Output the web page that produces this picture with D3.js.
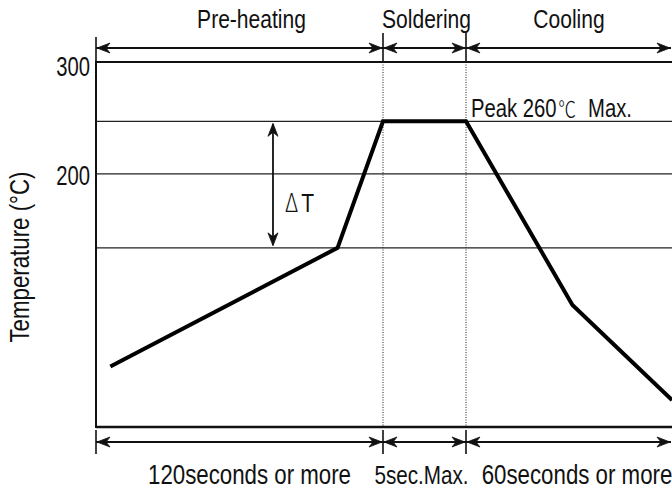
<!DOCTYPE html>
<html>
<head>
<meta charset="utf-8">
<script src="https://cdn.jsdelivr.net/npm/d3@7/dist/d3.min.js"></script>
<style>
  html, body { margin: 0; padding: 0; background: #fff; }
  svg { display: block; }
  text { font-family: "Liberation Sans", Arial, Helvetica, sans-serif; fill: #111; }
</style>
</head>
<body>
<svg id="chart" width="672" height="490"></svg>
<script>
// ---------------- data ----------------
const yTicks = [300, 200];
const refTemps = [247, 200, 134];               // horizontal reference lines
const phaseNames = ["Pre-heating", "Soldering", "Cooling"];
const phaseBounds = [0, 120, 125, 185];         // seconds (schematic)
const durationLabels = ["120seconds or more", "5sec.Max.", "60seconds or more"];
const profileTime = [6, 101, 120, 125, 156, 185];
const profileTemp = [28, 134, 247, 247, 83, -2];
const peakText = ["Peak 260", "℃", "Max."];
const deltaRange = [134, 247];
const deltaTime = 74;
const yLabel = "Temperature (°C)";

// ---------------- layout ----------------
const W = 672, H = 490;
const left = 96, plotTop = 62, plotBottom = 427;
const segW = [287, 83, 206];
const yMin = -26, yMax = 300;
const SX = 0.81;

const xRange = [left];
segW.forEach(w => xRange.push(xRange[xRange.length - 1] + w));
const x = d3.scaleLinear().domain(phaseBounds).range(xRange);
const y = d3.scaleLinear().domain([yMin, yMax]).range([plotBottom, plotTop]);

const svg = d3.select("#chart");

function txt(g, px, py, str, size, anchor, sx) {
  return g.append("text")
    .attr("transform", `translate(${px},${py}) scale(${sx || SX},1)`)
    .attr("text-anchor", anchor)
    .style("font-size", size + "px")
    .text(str);
}

function arrowHead(g, tx, ty, dir, vertical) {
  const L = 13, Wd = 5, N = 9;
  let p;
  if (!vertical) {
    p = `M${tx},${ty}L${tx - dir * L},${ty - Wd}L${tx - dir * N},${ty}L${tx - dir * L},${ty + Wd}Z`;
  } else {
    p = `M${tx},${ty}L${tx - Wd},${ty - dir * L}L${tx},${ty - dir * N}L${tx + Wd},${ty - dir * L}Z`;
  }
  g.append("path").attr("d", p).attr("fill", "#111").attr("stroke", "#111").attr("stroke-width", 0.8).attr("stroke-linejoin", "miter");
}

// reference (grid) lines
const grid = svg.append("g");
refTemps.forEach(t => {
  grid.append("line").attr("x1", left).attr("x2", W).attr("y1", y(t)).attr("y2", y(t))
    .attr("stroke", "#222").attr("stroke-width", 1.3);
});

// dotted phase separators
phaseBounds.slice(1, 3).forEach(s => {
  grid.append("line").attr("x1", x(s)).attr("x2", x(s)).attr("y1", plotTop).attr("y2", plotBottom)
    .attr("stroke", "#222").attr("stroke-width", 1).attr("stroke-dasharray", "1,1.5");
});

// frame: top, left, bottom
const frame = svg.append("g").attr("stroke", "#111").attr("fill", "none");
frame.append("line").attr("x1", left).attr("x2", W).attr("y1", y(yMax)).attr("y2", y(yMax)).attr("stroke-width", 2);
frame.append("line").attr("x1", left).attr("x2", W).attr("y1", plotBottom).attr("y2", plotBottom).attr("stroke-width", 2.4);
frame.append("line").attr("x1", left).attr("x2", left).attr("y1", plotTop - 1).attr("y2", plotBottom + 1).attr("stroke-width", 2);

// y tick labels
const yAxis = svg.append("g");
yTicks.forEach((t, i) => {
  txt(yAxis, left - 6, y(t) + (i === 0 ? 14 : 11), String(t), 27, "end", 0.75);
});

// y label
svg.append("text")
  .attr("transform", `translate(29,257) rotate(-90) scale(${SX},1)`)
  .attr("text-anchor", "middle")
  .style("font-size", "27.5px")
  .text(yLabel);

// top phase arrows
const topY = 48;
const topG = svg.append("g");
phaseNames.forEach((name, i) => {
  const x0 = x(phaseBounds[i]), x1 = Math.min(x(phaseBounds[i + 1]), W - 1);
  topG.append("line").attr("x1", x0).attr("x2", x1).attr("y1", topY).attr("y2", topY)
    .attr("stroke", "#111").attr("stroke-width", 1.8);
  arrowHead(topG, x0 + 1, topY, -1, false);
  arrowHead(topG, x1 - 1, topY, 1, false);
  const dx = [12, 2, 0][i];
  txt(topG, (x0 + x(phaseBounds[i + 1])) / 2 + dx, 28, name, 26, "middle");
});
phaseBounds.slice(0, 3).forEach((s, i) => {
  topG.append("line").attr("x1", x(s)).attr("x2", x(s)).attr("y1", i === 0 ? 37 : 33).attr("y2", i === 0 ? plotTop : 61)
    .attr("stroke", "#111").attr("stroke-width", 1.6);
});

// bottom duration arrows
const botY = 442;
const botG = svg.append("g");
durationLabels.forEach((lab, i) => {
  const x0 = x(phaseBounds[i]), x1 = Math.min(x(phaseBounds[i + 1]), W - 1);
  botG.append("line").attr("x1", x0).attr("x2", x1).attr("y1", botY).attr("y2", botY)
    .attr("stroke", "#111").attr("stroke-width", 1.8);
  arrowHead(botG, x0 + 1, botY, -1, false);
  arrowHead(botG, x1 - 1, botY, 1, false);
  const dx = [10, -3, 8][i];
  const fs = [27.5, 25.5, 27.5][i];
  txt(botG, (x0 + x(phaseBounds[i + 1])) / 2 + dx, 484, lab, fs, "middle");
});
phaseBounds.slice(0, 3).forEach(s => {
  botG.append("line").attr("x1", x(s)).attr("x2", x(s)).attr("y1", 430).attr("y2", 454)
    .attr("stroke", "#111").attr("stroke-width", 1.6);
});

// delta T arrow
const dG = svg.append("g");
const dx0 = x(deltaTime);
dG.append("line").attr("x1", dx0).attr("x2", dx0).attr("y1", y(deltaRange[1]) + 3).attr("y2", y(deltaRange[0]) - 3)
  .attr("stroke", "#111").attr("stroke-width", 1.8);
arrowHead(dG, dx0, y(deltaRange[1]) + 2, -1, true);
arrowHead(dG, dx0, y(deltaRange[0]) - 2, 1, true);
const dText = dG.append("text")
  .attr("transform", `translate(${dx0 + 12},${(y(deltaRange[0]) + y(deltaRange[1])) / 2 + 27}) scale(${SX},1)`)
  .style("font-size", "26px");
dText.append("tspan").style("font-family", "'Noto Sans CJK JP', sans-serif").style("font-weight", 300).text("Δ");
dText.append("tspan").attr("dx", 4).text("T");

// profile line
const pts = profileTime.map((t, i) => [x(t), y(profileTemp[i])]);
svg.append("path")
  .attr("d", d3.line()(pts))
  .attr("fill", "none").attr("stroke", "#000").attr("stroke-width", 4)
  .attr("stroke-linejoin", "miter");

// peak label
const pk = svg.append("text")
  .attr("transform", `translate(${x(phaseBounds[2]) + 5},${y(refTemps[0]) - 4}) scale(${SX},1)`)
  .style("font-size", "25px");
pk.append("tspan").text(peakText[0]);
pk.append("tspan").style("font-family", "'Noto Sans CJK JP', sans-serif").style("font-weight", 300).style("font-size", "22px").attr("dx", 2).text(peakText[1]);
pk.append("tspan").attr("dx", 15).text(peakText[2]);
</script>
</body>
</html>
